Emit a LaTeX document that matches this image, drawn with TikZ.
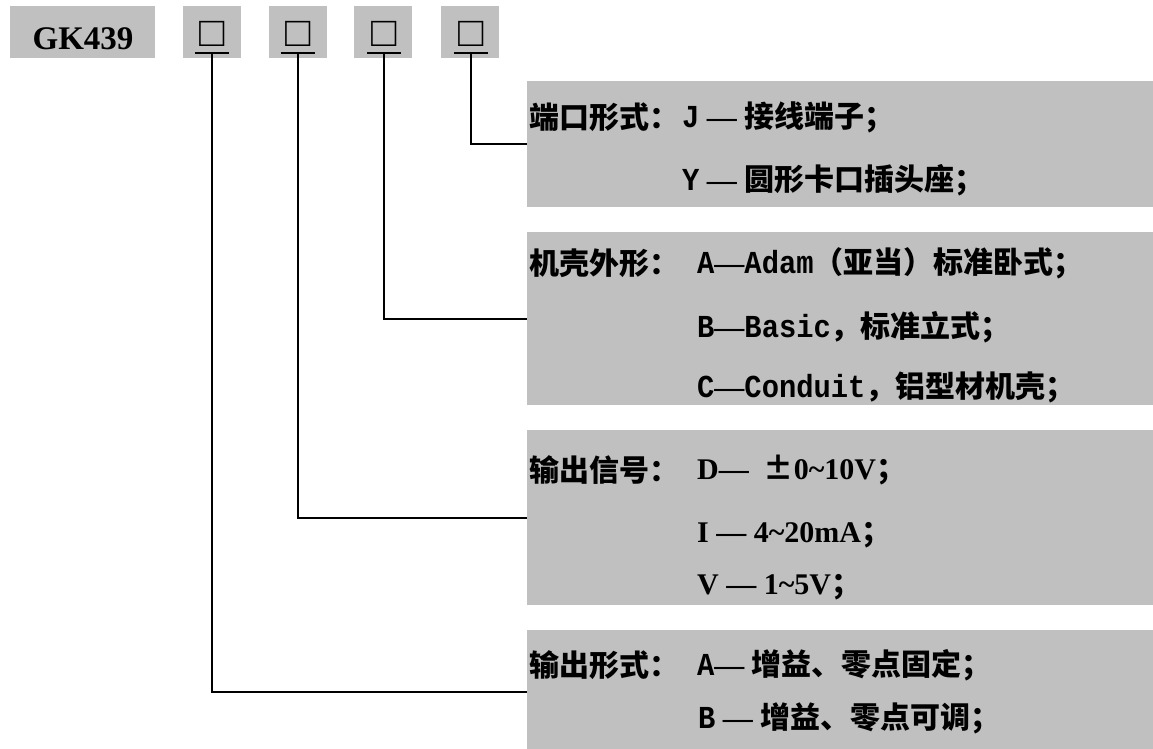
\documentclass[tikz,border=0pt]{standalone}
\usepackage{fontspec}
\setmainfont{Liberation Serif}
\newfontfamily\cjk{Noto Sans CJK SC}
\newfontfamily\mono{Liberation Mono}[FakeStretch=0.9]
\definecolor{boxgray}{RGB}{192,192,192}
\begin{document}
\begin{tikzpicture}[x=1pt,y=-1pt,
  gbox/.style={fill=boxgray, draw=none, inner sep=0pt, anchor=north west},
  txt/.style={inner sep=0pt, anchor=west, font=\fontsize{30}{30}\selectfont\bfseries},
  sq/.style={inner sep=0pt, anchor=base, font=\fontsize{42}{42}\selectfont\bfseries},
  conn/.style={line width=2.2pt, black},
  uline/.style={line width=1.8pt, black}]
\newcommand{\mn}[1]{{\mono\fontsize{32}{32}\selectfont #1}}
\newcommand{\cj}[1]{{\cjk #1}}
\useasboundingbox (0,0) rectangle (1153,749);
% header boxes
\node[gbox, minimum width=145pt, minimum height=52pt] (gk) at (10,6) {};
\node[inner sep=0pt, anchor=base, font=\fontsize{33}{33}\selectfont\bfseries] (gkt) at (83,50) {GK439};
\node[gbox, minimum width=58pt, minimum height=52pt] (b1) at (183,6) {};
\node[gbox, minimum width=58pt, minimum height=52pt] (b2) at (269,6) {};
\node[gbox, minimum width=58pt, minimum height=52pt] (b3) at (354,6) {};
\node[gbox, minimum width=58pt, minimum height=52pt] (b4) at (441,6) {};
\node[sq] (q1) at (212,47) {□};
\node[sq] (q2) at (298,47) {□};
\node[sq] (q3) at (384,47) {□};
\node[sq] (q4) at (471,47) {□};
\coordinate (u1) at (212,53);
\coordinate (u2) at (298,53);
\coordinate (u3) at (384,53);
\coordinate (u4) at (471,53);
\draw[uline] (195,53) -- (229,53);
\draw[uline] (281,53) -- (315,53);
\draw[uline] (367,53) -- (401,53);
\draw[uline] (454,53) -- (488,53);
% description boxes
\node[gbox, minimum width=626pt, minimum height=126pt] (ga) at (527,81) {};
\node[gbox, minimum width=626pt, minimum height=173pt] (gb) at (527,232) {};
\node[gbox, minimum width=626pt, minimum height=175pt] (gc) at (527,430) {};
\node[gbox, minimum width=626pt, minimum height=124pt] (gd) at (527,630) {};
% connectors
\draw[conn] (u4) |- (ga.west);
\draw[conn] (u3) |- (gb.west);
\draw[conn] (u2) |- (gc.west);
\draw[conn] (u1) |- (gd.west);
% texts
\node[txt] (a0) at (529,117) {\cj{端口形式：}};
\node[txt] (a1) at (682,117) {\mn{J} — \cj{接线端子；}};
\node[txt] (a2) at (682,180) {\mn{Y} — \cj{圆形卡口插头座；}};
\node[txt] (bb0) at (529,263) {\cj{机壳外形：}};
\node[txt] (bb1) at (697,263) {\mn{A}—\mn{Adam}\cj{（亚当）标准卧式；}};
\node[txt] (bb2) at (697,327) {\mn{B}—\mn{Basic}\cj{，标准立式；}};
\node[txt] (bb3) at (697,387) {\mn{C}—\mn{Conduit}\cj{，铝型材机壳；}};
\node[txt] (c0) at (529,470) {\cj{输出信号：}};
\node[txt] (c1) at (697,470) {D— \ \cj{±}0\textasciitilde10V\cj{；}};
\node[txt] (c2) at (697,535) {I — 4\textasciitilde20mA\cj{；}};
\node[txt] (c3) at (697,587) {V — 1\textasciitilde5V\cj{；}};
\node[txt] (d0) at (529,665) {\cj{输出形式：}};
\node[txt] (d1) at (697,665) {\mn{A}— \cj{增益、零点固定；}};
\node[txt] (d2) at (698,718) {\mn{B} — \cj{增益、零点可调；}};
\end{tikzpicture}
\end{document}
